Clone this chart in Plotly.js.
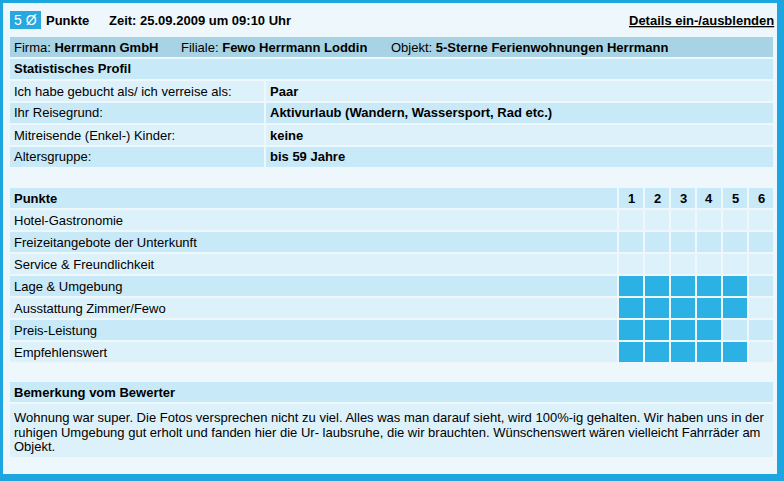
<!DOCTYPE html>
<html><head><meta charset="utf-8">
<script src="https://cdn.plot.ly/plotly-3.0.1.min.js"></script>
<style>html,body{margin:0;padding:0;background:#1ca5de;}</style>
</head><body><div id="chart" style="width:784px;height:481px;"></div>
<script>
// ---- data ----
const badgeText = '5 Ø';
const headerTitle = 'Punkte';
const timeText = 'Zeit: 25.09.2009 um 09:10 Uhr';
const toggleText = 'Details ein-/ausblenden';
const infoLabels = ['Firma:', 'Filiale:', 'Objekt:'];
const infoValues = ['Herrmann GmbH', 'Fewo Herrmann Loddin', '5-Sterne Ferienwohnungen Herrmann'];
const profileTitle = 'Statistisches Profil';
const profileLabels = ['Ich habe gebucht als/ ich verreise als:', 'Ihr Reisegrund:', 'Mitreisende (Enkel-) Kinder:', 'Altersgruppe:'];
const profileValues = ['Paar', 'Aktivurlaub (Wandern, Wassersport, Rad etc.)', 'keine', 'bis 59 Jahre'];
const scoreTitle = 'Punkte';
const categories = ['Hotel-Gastronomie', 'Freizeitangebote der Unterkunft', 'Service & Freundlichkeit', 'Lage & Umgebung', 'Ausstattung Zimmer/Fewo', 'Preis-Leistung', 'Empfehlenswert'];
const scores = [0, 0, 0, 5, 5, 4, 5];
const scaleLabels = ['1', '2', '3', '4', '5', '6'];
const commentTitle = 'Bemerkung vom Bewerter';
const commentLines = [
  'Wohnung war super. Die Fotos versprechen nicht zu viel. Alles was man darauf sieht, wird 100%-ig gehalten. Wir haben uns in der',
  'ruhigen Umgebung gut erholt und fanden hier die Ur- laubsruhe, die wir brauchten. Wünschenswert wären vielleicht Fahrräder am',
  'Objekt.'
];

// ---- style ----
const W = 784, H = 481;
const C = {
  border: '#1ca5de', bg: '#eef8fc', firma: '#a7d3e4',
  dark: '#c8e9f7', light: '#ddf1fa', fill: '#2cb1e5', badge: '#29a8df', text: '#000000'
};
const FONT = 'Liberation Sans, Arial, sans-serif';
const px = x => x / W;
const py = y => 1 - y / H;
const esc = s => s.replace(/&/g, '&amp;').replace(/</g, '&lt;');

const shapes = [];
const annotations = [];
function rect(x0, y0, x1, y1, color) {
  shapes.push({type: 'rect', xref: 'paper', yref: 'paper', x0: px(x0), x1: px(x1), y0: py(y1), y1: py(y0),
    fillcolor: color, line: {width: 0}, layer: 'below'});
}
function text(x, y, t, opts) {
  opts = opts || {};
  annotations.push({xref: 'paper', yref: 'paper', x: px(x), y: py(y), text: t, showarrow: false,
    xanchor: opts.anchor || 'left', yanchor: 'middle', borderpad: 0,
    font: {family: FONT, size: opts.size || 13, color: opts.color || C.text}});
}

// background
rect(3, 3, 777, 474, C.bg);

// header line
rect(10, 11, 41, 29, C.badge);
text(25.5, 20, esc(badgeText), {anchor: 'center', color: '#ffffff', size: 14});
text(45, 20, '<b>' + esc(headerTitle) + '</b>');
text(108, 20, '<b>' + esc(timeText) + '</b>');
text(775, 20, '<span style="text-decoration:underline"><b>' + esc(toggleText) + '</b></span>', {anchor: 'right'});

// info row
rect(10, 37, 773, 57, C.firma);
const infoX = [13, 180, 390];
infoLabels.forEach((l, i) => text(infoX[i], 47, esc(l) + ' <b>' + esc(infoValues[i]) + '</b>'));

// profile
rect(10, 59, 773, 79, C.dark);
text(13, 69, '<b>' + esc(profileTitle) + '</b>');
profileLabels.forEach((l, i) => {
  const y0 = 81 + 22 * i, col = i % 2 === 0 ? C.light : C.dark;
  rect(10, y0, 264, y0 + 20, col);
  rect(266, y0, 773, y0 + 20, col);
  text(13, y0 + 10, esc(l));
  text(269, y0 + 10, '<b>' + esc(profileValues[i]) + '</b>');
});

// scores grid (heatmap)
const yCats = [scoreTitle + ' '].concat(categories);
const cols = scaleLabels.map(Number);
const z = yCats.map((c, r) => cols.map(k => {
  if (r === 0) return 1;
  const i = r - 1;
  if (k <= scores[i]) return 2;
  return i % 2 === 0 ? 0 : 1;
}));
const rowH = 1 / 22;
yCats.forEach((c, r) => {
  const col = (r === 0 || (r - 1) % 2 === 1) ? C.dark : C.light;
  shapes.push({type: 'rect', xref: 'paper', yref: 'y', x0: px(10), x1: px(617),
    y0: r - 0.5 + rowH, y1: r + 0.5 - rowH, fillcolor: col, line: {width: 0}, layer: 'below'});
  annotations.push({xref: 'paper', yref: 'y', x: px(13), y: r, text: r === 0 ? '<b>' + esc(scoreTitle) + '</b>' : esc(c),
    showarrow: false, xanchor: 'left', yanchor: 'middle', borderpad: 0,
    font: {family: FONT, size: 13, color: C.text}});
});
cols.forEach((k, j) => {
  annotations.push({xref: 'x', yref: 'y', x: k, y: yCats[0], text: '<b>' + scaleLabels[j] + '</b>',
    showarrow: false, xanchor: 'center', yanchor: 'middle', borderpad: 0,
    font: {family: FONT, size: 13, color: C.text}});
});

// comment
rect(10, 382, 773, 402, C.dark);
text(13, 392, '<b>' + esc(commentTitle) + '</b>');
rect(10, 404, 773, 457, C.light);
const lineY = [417, 432, 446];
commentLines.forEach((l, i) => text(13, lineY[i], esc(l)));

const trace = {
  type: 'heatmap', x: cols, y: yCats, z: z, zmin: 0, zmax: 2,
  colorscale: [[0, C.light], [0.5, C.dark], [1, C.fill]],
  xgap: 2, ygap: 2, showscale: false, hoverinfo: 'skip'
};

const layout = {
  width: W, height: H, margin: {l: 0, r: 0, t: 0, b: 0},
  paper_bgcolor: C.border, plot_bgcolor: C.bg,
  xaxis: {domain: [px(618), px(774)], range: [0.5, 6.5], showgrid: false, zeroline: false,
    showticklabels: false, ticks: '', fixedrange: true},
  yaxis: {domain: [py(363), py(187)], type: 'category', categoryorder: 'array', categoryarray: yCats,
    range: [yCats.length - 0.5, -0.5], showgrid: false, zeroline: false, showticklabels: false, ticks: '', fixedrange: true},
  shapes: shapes, annotations: annotations, showlegend: false,
  font: {family: FONT, size: 13, color: C.text}
};

Plotly.newPlot('chart', [trace], layout, {staticPlot: true, displayModeBar: false});
</script>
</body></html>
